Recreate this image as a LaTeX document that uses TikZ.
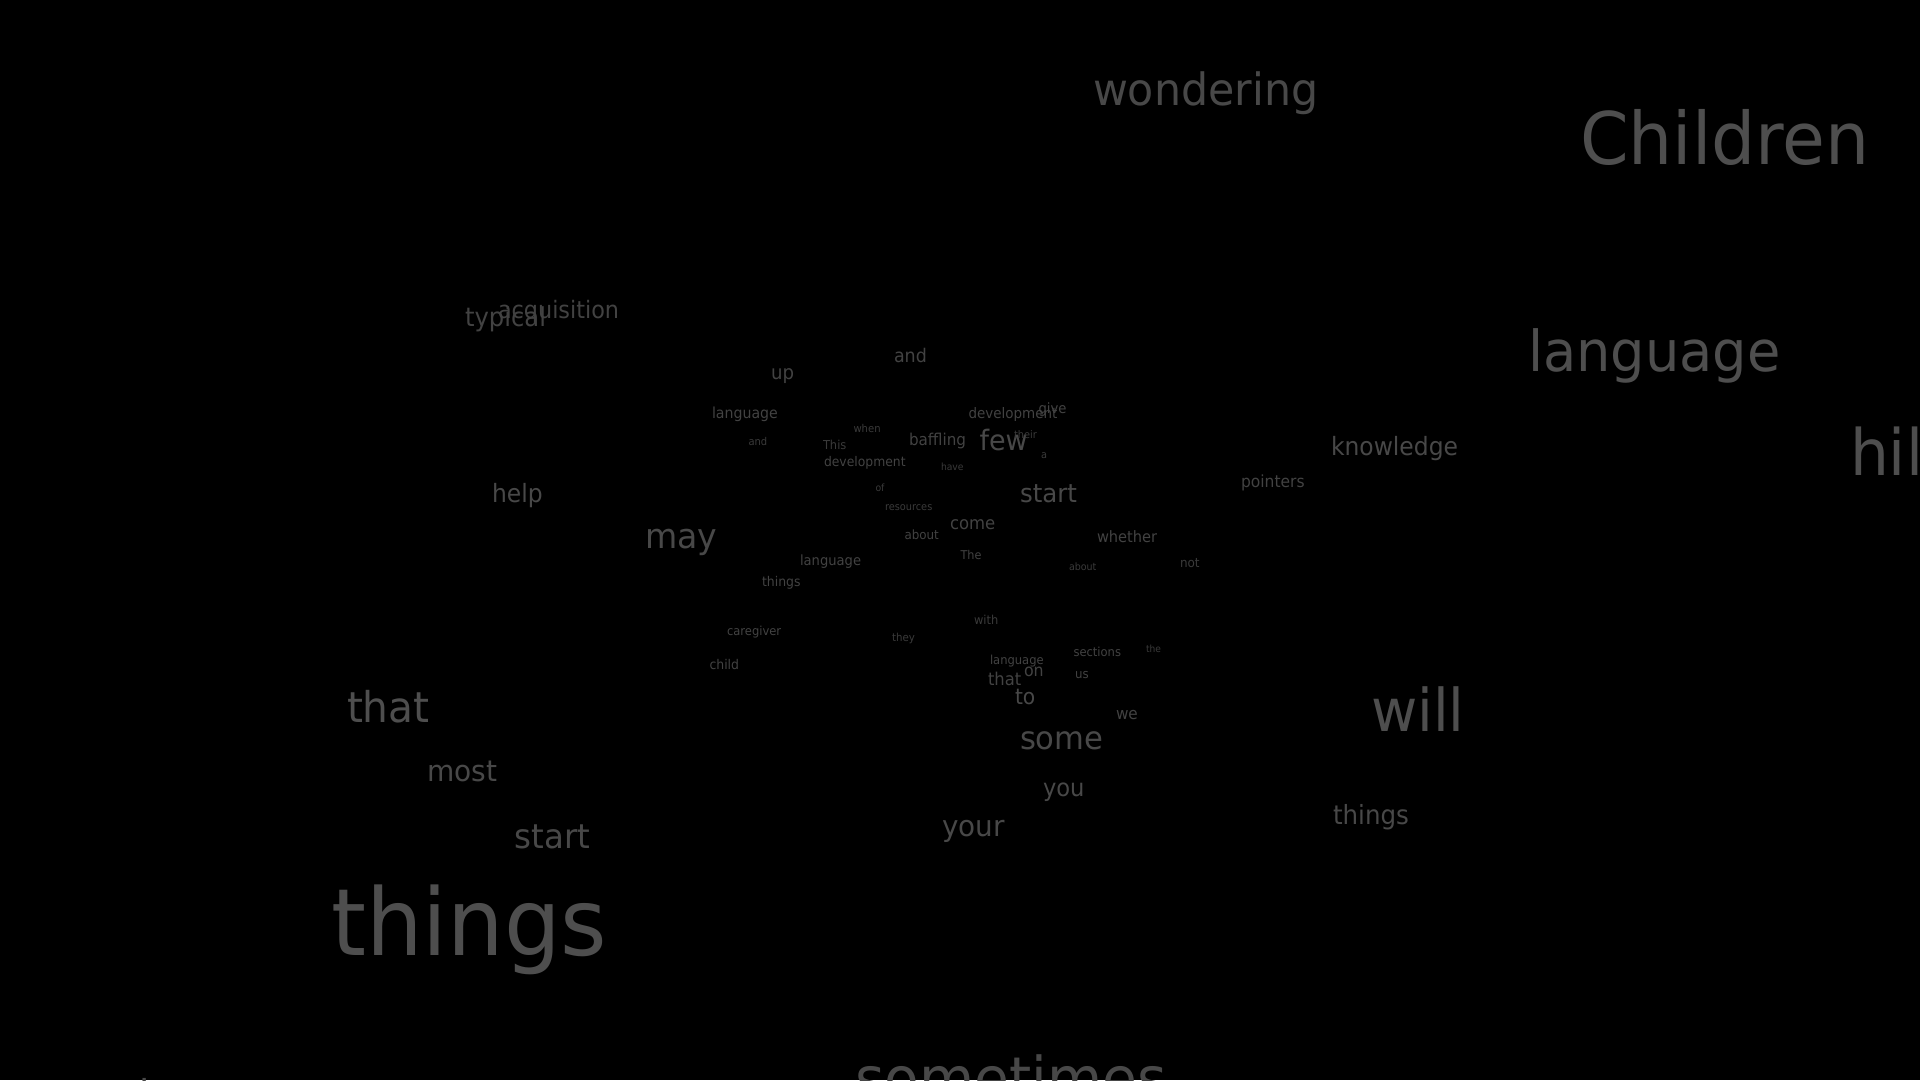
\documentclass[tikz,border=0pt]{standalone}
\usepackage{fontspec}
\usepackage{graphicx}
\newfontfamily\wfont{DejaVu Sans}
\newcommand{\sx}[1]{\scalebox{0.93}[1]{#1}}
\newcommand{\sxb}[1]{\scalebox{0.96}[1]{#1}}
\definecolor{ca}{HTML}{4E4E4E}
\definecolor{cb}{HTML}{484848}
\definecolor{cc}{HTML}{424242}
\definecolor{cd}{HTML}{3A3A3A}
\tikzset{
  word/.style n args={2}{anchor=base west, inner sep=0pt, outer sep=0pt,
    text=#2, font=\wfont\fontsize{#1}{#1}\selectfont}
}
\begin{document}
\begin{tikzpicture}[x=1pt,y=-1pt]
\useasboundingbox (0,0) rectangle (1920,1080);
\fill[black] (0,0) rectangle (1920,1080);
\clip (0,0) rectangle (1920,1080);
% far right / top
\node[word={44.5}{cb}] (wondering) at (1093,105) {\sxb{wondering}};
\node[word={72.5}{ca}] (children) at (1580,164) {\sxb{Children}};
\node[word={56.5}{ca}] (languageR) at (1528,371.5) {\sxb{language}};
\node[word={64}{ca}] (hil) at (1850,475) {\sxb{hil}};
\node[word={25.2}{cb}] (knowledge) at (1331,455) {\sx{knowledge}};
\node[word={16.7}{cc}] (pointers) at (1241,487) {\sx{pointers}};
\node[word={59}{ca}] (will) at (1371,731) {\sxb{will}};
\node[word={26.4}{cb}] (thingsR) at (1333,824) {\sx{things}};
\node[word={59}{cb}] (sometimes) at (855,1099) {\sxb{sometimes}};
\node[word={40}{cb}] (tfrag) at (139,1106) {\sx{t}};
% left
\node[word={26.1}{cc}] (typical) at (465,326.5) {\sx{typical}};
\node[word={24}{cc}] (acquisition) at (498,318) {\sx{acquisition}};
\node[word={25.2}{cb}] (help) at (492,502.5) {\sx{help}};
\node[word={34.5}{cb}] (may) at (645,548) {\sxb{may}};
\node[word={42.4}{ca}] (thatL) at (347,722.7) {\sxb{that}};
\node[word={29.2}{cb}] (most) at (427,781.7) {\sxb{most}};
\node[word={33.8}{cb}] (startL) at (514.5,848.3) {\sxb{start}};
\node[word={93}{ca}] (thingsB) at (331,955.7) {\sxb{things}};
% cluster
\node[word={19.5}{cc}] (up) at (771,379) {\sx{up}};
\node[word={18.8}{cc}] (andT) at (894,362.5) {\sx{and}};
\node[word={15.2}{cc}] (languageA) at (712,418.3) {\sx{language}};
\node[word={10.7}{cd}] (andS) at (748.5,445) {\sx{and}};
\node[word={10.8}{cd}] (when) at (853.5,432.7) {\sx{when}};
\node[word={12.3}{cd}] (this) at (823,449.3) {\sx{This}};
\node[word={13.3}{cc}] (devL) at (824,466.7) {\sx{development}};
\node[word={16.3}{cc}] (baffling) at (909,445.7) {\sx{baffling}};
\node[word={14.5}{cc}] (devR) at (968.5,418.3) {\sx{development}};
\node[word={14.2}{cc}] (give) at (1038.5,413.3) {\sx{give}};
\node[word={28.1}{cb}] (few) at (979.5,450) {\sxb{few}};
\node[word={10.5}{cd}] (their) at (1014,438.3) {\sx{their}};
\node[word={10.5}{cd}] (a) at (1041,458.7) {\sx{a}};
\node[word={9.9}{cd}] (have) at (941,470) {\sx{have}};
\node[word={10}{cd}] (of) at (875.5,491) {\sx{of}};
\node[word={10.5}{cd}] (resources) at (885,510.7) {\sx{resources}};
\node[word={25.5}{cb}] (startC) at (1020,502.7) {\sxb{start}};
\node[word={17.7}{cc}] (come) at (950,529) {\sx{come}};
\node[word={12.8}{cc}] (about) at (904.5,539.3) {\sx{about}};
\node[word={12.1}{cc}] (the1) at (960.5,559.3) {\sx{The}};
\node[word={14.1}{cc}] (languageC) at (800,565.3) {\sx{language}};
\node[word={10.2}{cd}] (aboutS) at (1069,570.7) {\sx{about}};
\node[word={15.7}{cc}] (whether) at (1097,542.5) {\sx{whether}};
\node[word={12.9}{cd}] (not) at (1180,567.3) {\sx{not}};
\node[word={13.4}{cc}] (thingsS) at (762,586.7) {\sx{things}};
\node[word={12.4}{cc}] (caregiver) at (727,635) {\sx{caregiver}};
\node[word={13.4}{cc}] (child) at (709.5,669.3) {\sx{child}};
\node[word={11}{cd}] (they) at (892,641.7) {\sx{they}};
\node[word={12.3}{cd}] (with) at (974,624) {\sx{with}};
\node[word={12.4}{cc}] (languageL) at (990,664) {\sx{language}};
\node[word={17}{cc}] (on) at (1024,676.7) {\sx{on}};
\node[word={17.6}{cc}] (thatC) at (988,685) {\sx{that}};
\node[word={21.8}{cb}] (to) at (1015,704) {\sx{to}};
\node[word={12.4}{cc}] (sections) at (1073.5,656.7) {\sx{sections}};
\node[word={9.8}{cd}] (the2) at (1146,652.7) {\sx{the}};
\node[word={12.7}{cc}] (us) at (1075,678.3) {\sx{us}};
\node[word={16.4}{cc}] (we) at (1116,719) {\sx{we}};
\node[word={31.9}{cb}] (some) at (1020,749.4) {\sxb{some}};
\node[word={24.3}{cb}] (you) at (1043,796) {\sx{you}};
\node[word={29}{cb}] (your) at (942,836.7) {\sxb{your}};
\end{tikzpicture}
\end{document}
